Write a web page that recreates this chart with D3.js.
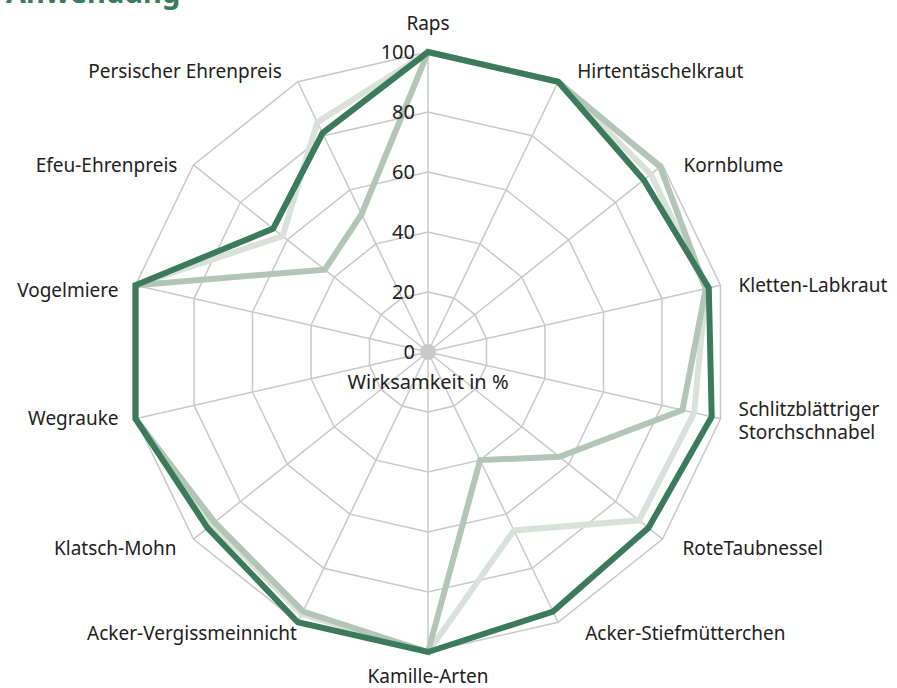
<!DOCTYPE html>
<html>
<head>
<meta charset="utf-8">
<script src="https://cdn.jsdelivr.net/npm/d3@7"></script>
<style>
  body { margin: 0; background: #fff; }
  svg { display: block; font-family: 'Noto Sans', sans-serif; }
  .axis-label { font-size: 19px; fill: #222; }
  .tick-label { font-size: 20px; fill: #222; }
</style>
</head>
<body>
<div id="chart"></div>
<script>
// categories (clockwise from top)
const axes = [
  'Raps', 'Hirtentäschelkraut', 'Kornblume', 'Kletten-Labkraut',
  'Schlitzblättriger Storchschnabel', 'RoteTaubnessel', 'Acker-Stiefmütterchen',
  'Kamille-Arten', 'Acker-Vergissmeinnicht', 'Klatsch-Mohn', 'Wegrauke',
  'Vogelmiere', 'Efeu-Ehrenpreis', 'Persischer Ehrenpreis'
]

// Wirksamkeit in %
const seriesLight  = [100, 100, 95, 95, 91, 90, 66, 100, 97, 92, 100, 100, 62, 85]
const seriesMedium = [100, 100, 99, 95, 87, 56, 40, 100, 96, 91, 100, 100, 44, 51]
const seriesDark   = [100, 100, 92, 96, 97, 94, 96, 100, 100, 94, 100, 100, 66, 81]

const ticks = [0, 20, 40, 60, 80, 100]

// layout
const width = 897
const height = 688
const cx = 428
const cy = 352
const radius = 300
const colors = { light: '#d8e2da', medium: '#b3c5b6', dark: '#3b7a5b' }
const gridColor = '#c8c8c8'

// label nudges relative to the axis tip
const labelNudge = [
  [0, -29, 'middle'], [19, -10, 'start'], [21, 0, 'start'], [18, 0, 'start'],
  [18, 2, 'start'], [20, 9, 'start'], [27, 11, 'start'], [0, 24, 'middle'],
  [-1, 11, 'end'], [-17, 9, 'end'], [-17, 0, 'end'], [-17, 5, 'end'],
  [-16, 0, 'end'], [-16, -10, 'end']
]

const scaleR = d3.scaleLinear().domain([0, 100]).range([0, radius])
const scaleA = d3.scaleLinear().domain([0, axes.length]).range([0, 2 * Math.PI])

const pt = (i, v) => {
  const a = scaleA(i)
  return [cx + scaleR(v) * Math.sin(a), cy - scaleR(v) * Math.cos(a)]
}

const $svg = d3.select('#chart').append('svg')
  .attr('width', width)
  .attr('height', height)

// cut-off title at the top
$svg.append('text')
  .attr('x', 6)
  .attr('y', 3)
  .style('font-size', '29px')
  .style('font-weight', 700)
  .style('fill', colors.dark)
  .text('Anwendung')

const $grid = $svg.append('g')

// web rings
ticks.filter(t => t > 0).forEach(t => {
  $grid.append('polygon')
    .attr('points', axes.map((d, i) => pt(i, t).join(',')).join(' '))
    .attr('fill', 'none')
    .attr('stroke', gridColor)
    .attr('stroke-width', 1.5)
})

// spokes
$grid.selectAll('.spoke')
  .data(axes)
  .enter()
  .append('line')
  .attr('class', 'spoke')
  .attr('x1', cx).attr('y1', cy)
  .attr('x2', (d, i) => pt(i, 100)[0])
  .attr('y2', (d, i) => pt(i, 100)[1])
  .attr('stroke', gridColor)
  .attr('stroke-width', 1.5)

$grid.append('circle')
  .attr('cx', cx).attr('cy', cy).attr('r', 8)
  .attr('fill', gridColor)

// series
const line = d3.lineRadial()
  .angle((d, i) => scaleA(i))
  .radius(d => scaleR(d))
  .curve(d3.curveLinearClosed)

const series = [
  { values: seriesLight, color: colors.light },
  { values: seriesMedium, color: colors.medium },
  { values: seriesDark, color: colors.dark }
]

$svg.append('g')
  .attr('transform', `translate(${cx}, ${cy})`)
  .selectAll('path')
  .data(series)
  .enter()
  .append('path')
  .attr('d', d => line(d.values))
  .attr('fill', 'none')
  .attr('stroke', d => d.color)
  .attr('stroke-width', 6)
  .attr('stroke-linejoin', 'miter')

// tick labels
$svg.selectAll('.tick-label')
  .data(ticks)
  .enter()
  .append('text')
  .attr('class', 'tick-label')
  .attr('x', cx - 13)
  .attr('y', d => cy - scaleR(d))
  .attr('dy', '0.35em')
  .attr('text-anchor', 'end')
  .text(d => d)

$svg.append('text')
  .attr('class', 'tick-label')
  .attr('x', cx)
  .attr('y', cy + 30)
  .attr('dy', '0.35em')
  .attr('text-anchor', 'middle')
  .text('Wirksamkeit in %')

// axis labels
const $labels = $svg.selectAll('.axis-label')
  .data(axes)
  .enter()
  .append('text')
  .attr('class', 'axis-label')
  .attr('text-anchor', (d, i) => labelNudge[i][2])
  .attr('transform', (d, i) => {
    const p = pt(i, 100)
    return `translate(${p[0] + labelNudge[i][0]}, ${p[1] + labelNudge[i][1]})`
  })

$labels.each(function(d) {
  const words = d === 'Schlitzblättriger Storchschnabel' ? d.split(' ') : [d]
  const $t = d3.select(this)
  words.forEach((w, j) => {
    $t.append('tspan')
      .attr('x', 0)
      .attr('y', (j - (words.length - 1) / 2) * 23)
      .attr('dy', '0.35em')
      .text(w)
  })
})
</script>
</body>
</html>
